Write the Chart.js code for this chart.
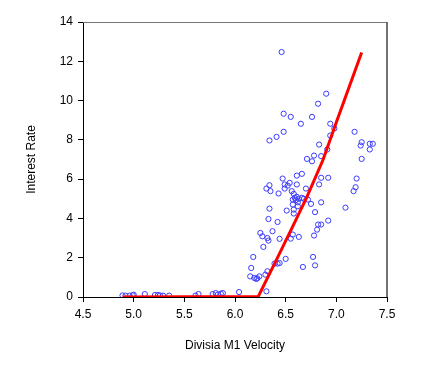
<!DOCTYPE html>
<html>
<head>
<meta charset="utf-8">
<script src="https://cdn.jsdelivr.net/npm/chart.js@4/dist/chart.umd.min.js"></script>
<style>
  html, body { margin: 0; padding: 0; background: #fff; }
  #wrap { width: 431px; height: 385px; }
</style>
</head>
<body>
<div id="wrap"><canvas id="chart"></canvas></div>
<script>
// observed data: Divisia M1 velocity vs interest rate
const velocity = [
    4.89, 4.92, 4.96, 4.99, 5.00, 5.11, 5.21, 5.24, 5.26, 5.29, 5.35, 5.61, 5.64, 5.78, 5.81, 5.83, 5.86, 5.88, 6.04,
    6.31, 6.15, 6.16, 6.18, 6.19, 6.21, 6.22, 6.24, 6.25, 6.27, 6.28, 6.30, 6.32, 6.32, 6.33, 6.33, 6.34, 6.31, 6.34,
    6.35, 6.34, 6.37, 6.39, 6.42, 6.44, 6.42, 6.41, 6.43, 6.44, 6.46, 6.47, 6.48, 6.48, 6.49, 6.50, 6.49, 6.51, 6.52,
    6.54, 6.55, 6.55, 6.57, 6.56, 6.57, 6.57, 6.58, 6.58, 6.58, 6.59, 6.60, 6.61, 6.61, 6.61, 6.62, 6.62, 6.63, 6.63,
    6.65, 6.66, 6.66, 6.67, 6.68, 6.70, 6.71, 6.72, 6.75, 6.76, 6.76, 6.77, 6.78, 6.78, 6.79, 6.79, 6.81, 6.82, 6.82,
    6.83, 6.83, 6.85, 6.85, 6.85, 6.85, 6.90, 6.91, 6.92, 6.92, 6.94, 6.94, 6.98, 7.09, 7.17, 7.18, 7.19, 7.20, 7.24,
    7.25, 7.25, 7.33, 7.33, 7.36
];
const interestRate = [
    0.08, 0.07, 0.07, 0.08, 0.12, 0.15, 0.10, 0.10, 0.08, 0.07, 0.07, 0.07, 0.15, 0.15, 0.20, 0.12, 0.17, 0.20, 0.25,
    0.29, 1.05, 1.48, 2.04, 0.97, 0.92, 0.95, 1.05, 3.26, 3.09, 2.55, 1.14, 1.31, 3.00, 2.87, 3.97, 4.50, 5.52, 5.69,
    5.39, 7.97, 3.35, 1.70, 1.70, 1.73, 3.82, 8.15, 5.27, 2.96, 12.47, 6.03, 9.33, 8.41, 5.52, 1.94, 5.73, 4.40, 5.67,
    5.81, 9.17, 2.97, 3.18, 5.39, 4.96, 4.71, 4.25, 4.45, 5.25, 5.05, 4.93, 6.18, 5.73, 5.10, 4.82, 4.62, 3.06, 5.00,
    8.82, 5.05, 6.27, 1.53, 5.00, 5.52, 7.03, 4.96, 4.74, 9.17, 6.91, 2.04, 3.13, 7.20, 1.61, 4.32, 3.43, 3.69, 9.84,
    5.73, 7.76, 3.69, 4.82, 6.07, 7.17, 10.35, 7.51, 6.07, 3.89, 8.82, 8.22, 8.58, 4.55, 5.39, 8.41, 5.59, 6.03, 7.71,
    7.88, 7.03, 7.51, 7.80, 7.80
];

// fitted threshold line
const fitVelocity = [4.89, 6.23, 6.41, 6.57, 6.71, 6.87, 7.00, 7.25];
const fitRate = [0.0, 0.03, 1.9, 3.6, 5.1, 7.0, 8.9, 12.45];

const xTicks = [4.5, 5.0, 5.5, 6.0, 6.5, 7.0, 7.5];
const yTicks = [0, 2, 4, 6, 8, 10, 12, 14];

const scatterPoints = velocity.map((v, i) => ({ x: v, y: interestRate[i] }));
const fitPoints = fitVelocity.map((v, i) => ({ x: v, y: fitRate[i] }));

Chart.defaults.font.family = "'Liberation Sans', Arial, sans-serif";
Chart.defaults.font.size = 12;
Chart.defaults.color = "#000";

// box round the plot area
const frame = {
    id: "frame",
    afterDraw(chart) {
        const a = chart.chartArea;
        const ctx = chart.ctx;
        ctx.save();
        ctx.strokeStyle = "#777";
        ctx.lineWidth = 1;
        ctx.beginPath();
        ctx.moveTo(a.left, a.top + 0.5);
        ctx.lineTo(a.right, a.top + 0.5);
        ctx.stroke();
        ctx.strokeStyle = "#444";
        ctx.lineWidth = 1.5;
        ctx.beginPath();
        ctx.moveTo(a.right, a.top);
        ctx.lineTo(a.right, a.bottom);
        ctx.stroke();
        ctx.restore();
    }
};

new Chart(document.getElementById("chart"), {
    type: "scatter",
    data: {
        datasets: [
            {
                label: "Fit",
                type: "line",
                data: fitPoints,
                borderColor: "#ff0000",
                borderWidth: 3,
                pointRadius: 0,
                fill: false,
                tension: 0
            },
            {
                label: "Data",
                data: scatterPoints,
                borderColor: "#3a3aff",
                backgroundColor: "rgba(0,0,0,0)",
                borderWidth: 1,
                pointRadius: 2.6,
                pointStyle: "circle"
            }
        ]
    },
    options: {
        responsive: true,
        maintainAspectRatio: false,
        animation: false,
        layout: {
            padding: { top: 22, right: 44, bottom: 28, left: 20 }
        },
        plugins: {
            legend: { display: false },
            tooltip: { enabled: false }
        },
        scales: {
            x: {
                type: "linear",
                min: 4.5,
                max: 7.5,
                afterBuildTicks: scale => { scale.ticks = xTicks.map(v => ({ value: v })); },
                afterFit: scale => { scale.height = 60; },
                ticks: {
                    padding: 5,
                    callback: v => v.toFixed(1)
                },
                grid: {
                    drawOnChartArea: false,
                    drawTicks: true,
                    tickLength: 5,
                    color: "#000"
                },
                border: { color: "#000", width: 1 },
                title: {
                    display: true,
                    text: "Divisia M1 Velocity"
                }
            },
            y: {
                min: 0,
                max: 14,
                afterBuildTicks: scale => { scale.ticks = yTicks.map(v => ({ value: v })); },
                afterFit: scale => { scale.width = 63; },
                ticks: {
                    padding: 5
                },
                grid: {
                    drawOnChartArea: false,
                    drawTicks: true,
                    tickLength: 5,
                    color: "#000"
                },
                border: { color: "#000", width: 1 },
                title: {
                    display: true,
                    text: "Interest Rate"
                }
            }
        }
    },
    plugins: [frame]
});
</script>
</body>
</html>
